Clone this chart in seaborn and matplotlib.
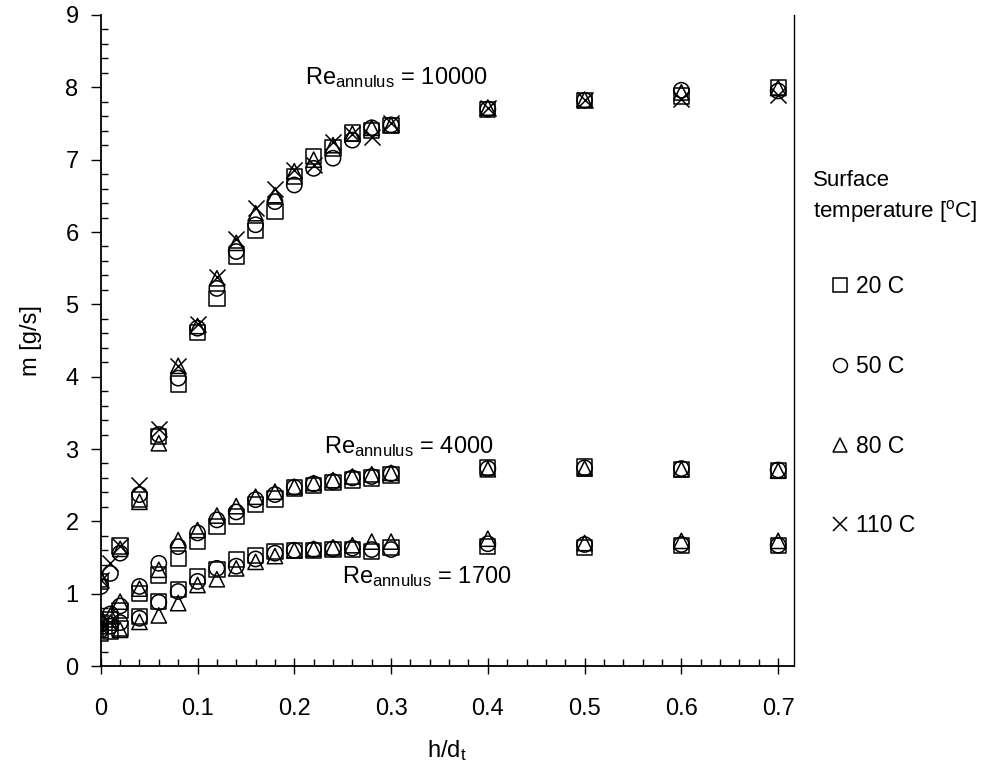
import numpy as np
import pandas as pd
import matplotlib
matplotlib.use("Agg")
import matplotlib.pyplot as plt
from matplotlib.lines import Line2D
from matplotlib.ticker import MultipleLocator, FixedLocator
import seaborn as sns

nan = np.nan

# ---------------- data ----------------
h_dt = [0, 0.01, 0.02, 0.04, 0.06, 0.08, 0.10, 0.12, 0.14, 0.16, 0.18,
        0.20, 0.22, 0.24, 0.26, 0.28, 0.30, 0.4, 0.5, 0.6, 0.7]

temps = ["20 C", "50 C", "80 C", "110 C"]

# Re_annulus = 10000
m10000_20C = [1.17, nan, 1.66, 2.30, 3.17, 3.90, 4.61, 5.08, 5.67, 6.02, 6.28,
              6.77, 7.04, 7.16, 7.37, 7.40, 7.47, 7.69, 7.82, 7.88, 8.00]
m10000_50C = [1.10, 1.28, 1.56, 2.37, 3.20, 3.98, 4.67, 5.22, 5.73, 6.10, 6.42,
              6.65, 6.88, 7.02, 7.27, 7.44, 7.48, 7.70, 7.82, 7.96, 7.95]
m10000_80C = [1.20, nan, 1.62, 2.27, 3.08, 4.15, 4.70, 5.36, 5.85, 6.26, 6.51,
              6.84, 7.00, 7.20, 7.36, 7.44, 7.48, 7.72, 7.83, 7.93, 7.99]
m10000_110C = [1.19, 1.42, 1.66, 2.50, 3.28, 4.15, 4.73, 5.38, 5.90, 6.33, 6.60,
               6.86, 6.93, 7.25, 7.35, 7.32, 7.50, 7.71, 7.82, 7.84, 7.90]

# Re_annulus = 4000
m4000_20C = [0.60, 0.64, 0.77, 1.00, 1.26, 1.49, 1.72, 1.93, 2.07, 2.23, 2.31,
             2.46, 2.50, 2.54, 2.57, 2.60, 2.64, 2.74, 2.75, 2.72, 2.70]
m4000_50C = [0.58, 0.72, 0.83, 1.10, 1.42, 1.65, 1.84, 2.02, 2.13, 2.30, 2.37,
             2.47, 2.52, 2.55, 2.60, 2.62, 2.66, 2.73, 2.74, 2.73, 2.71]
m4000_80C = [0.68, 0.70, 0.89, 1.07, 1.33, 1.74, 1.88, 2.08, 2.21, 2.34, 2.41,
             2.48, 2.53, 2.57, 2.62, 2.65, 2.67, 2.72, 2.73, 2.72, 2.70]

# Re_annulus = 1700
m1700_20C = [0.45, 0.48, 0.52, 0.68, 0.89, 1.06, 1.24, 1.33, 1.47, 1.53, 1.58,
             1.60, 1.60, 1.61, 1.61, 1.58, 1.64, 1.65, 1.64, 1.67, 1.67]
m1700_50C = [0.50, 0.55, 0.60, 0.66, 0.88, 1.03, 1.17, 1.35, 1.38, 1.48, 1.56,
             1.60, 1.61, 1.62, 1.63, 1.61, 1.61, 1.69, 1.68, 1.68, 1.67]
m1700_80C = [0.55, 0.60, 0.50, 0.61, 0.70, 0.87, 1.12, 1.20, 1.35, 1.44, 1.52,
             1.60, 1.62, 1.64, 1.67, 1.72, 1.72, 1.76, 1.70, 1.73, 1.73]

x_ticks = [0, 0.1, 0.2, 0.3, 0.4, 0.5, 0.6, 0.7]
x_ticklabels = ["0", "0.1", "0.2", "0.3", "0.4", "0.5", "0.6", "0.7"]
y_ticks = [0, 1, 2, 3, 4, 5, 6, 7, 8, 9]
y_ticklabels = [str(v) for v in y_ticks]

re_labels = ["10000", "4000", "1700"]
re_label_pos = [(0.211, 8.13), (0.231, 3.03), (0.249, 1.24)]

# ---------------- long table ----------------
series = {
    ("10000", "20 C"): m10000_20C, ("10000", "50 C"): m10000_50C,
    ("10000", "80 C"): m10000_80C, ("10000", "110 C"): m10000_110C,
    ("4000", "20 C"): m4000_20C, ("4000", "50 C"): m4000_50C,
    ("4000", "80 C"): m4000_80C,
    ("1700", "20 C"): m1700_20C, ("1700", "50 C"): m1700_50C,
    ("1700", "80 C"): m1700_80C,
}
rows = []
for (re, t), vals in series.items():
    for x, y in zip(h_dt, vals):
        if not np.isnan(y):
            rows.append({"h": x, "m": y, "Re": re, "T": t})
df = pd.DataFrame(rows)

# ---------------- style ----------------
sns.set_theme(style="white")
plt.rcParams["font.family"] = ["Liberation Sans", "DejaVu Sans"]
plt.rcParams["mathtext.fontset"] = "custom"
plt.rcParams["mathtext.rm"] = "Liberation Sans"
plt.rcParams["mathtext.it"] = "Liberation Sans"
for k in ["text.color", "axes.labelcolor", "xtick.color", "ytick.color", "axes.edgecolor"]:
    plt.rcParams[k] = "black"
FS = 17

fig = plt.figure(figsize=(9.81, 7.73), dpi=100)
ax = fig.add_axes([0.1027, 0.1384, 0.7063, 0.8422])

marker_map = {"20 C": "s", "50 C": "o", "80 C": "^", "110 C": "x"}
MS = 11.0
for t in temps:
    sub = df[df["T"] == t]
    if t == "110 C":
        sns.scatterplot(data=sub, x="h", y="m", marker="x", s=MS**2 * 1.1,
                        color="black", linewidth=1.1, ax=ax, legend=False, zorder=3)
    else:
        sns.scatterplot(data=sub, x="h", y="m", marker=marker_map[t], s=MS**2,
                        facecolors="none", edgecolor="black", linewidth=1.1,
                        ax=ax, legend=False, zorder=3)

ax.set_xlim(0, 0.716)
ax.set_ylim(0, 9)
ax.xaxis.set_major_locator(FixedLocator(x_ticks))
ax.set_xticklabels(x_ticklabels)
ax.xaxis.set_minor_locator(MultipleLocator(0.02))
ax.yaxis.set_major_locator(FixedLocator(y_ticks))
ax.set_yticklabels(y_ticklabels)
ax.yaxis.set_minor_locator(MultipleLocator(0.2))

for side in ["left", "bottom", "right"]:
    ax.spines[side].set_visible(True)
    ax.spines[side].set_color("black")
    ax.spines[side].set_linewidth(1.3)
ax.spines["top"].set_visible(False)
ax.spines["right"].set_linewidth(1.0)

ax.tick_params(axis="x", which="major", direction="inout", length=12, width=1,
               color="black", labelsize=FS, pad=17, bottom=True)
ax.tick_params(axis="x", which="minor", direction="in", length=5, width=1,
               color="black", bottom=True)
ax.tick_params(axis="y", which="major", direction="out", length=7, width=1,
               color="black", labelsize=FS, pad=9, left=True)
ax.tick_params(axis="y", which="minor", direction="in", length=5, width=1,
               color="black", left=True)
ax.tick_params(which="both", top=False, right=False)

ax.set_xlabel(r"h/d$_{\mathrm{t}}$", fontsize=FS, labelpad=13)
ax.set_ylabel("m [g/s]", fontsize=FS, labelpad=17)

for lab, (xp, yp) in zip(re_labels, re_label_pos):
    ax.text(xp, yp, r"Re$_{\mathrm{annulus}}$ = " + lab, fontsize=FS,
            ha="left", va="center")

# legend
fig.text(813 / 981, 1 - 180 / 773, "Surface", fontsize=16, ha="left", va="center")
fig.text(813 / 981, 1 - 212 / 773, r"temperature [$^{\mathrm{o}}$C]", fontsize=16,
         ha="left", va="center")
handles = []
for t in temps:
    m = marker_map[t]
    if m == "x":
        handles.append(Line2D([], [], marker="x", linestyle="none", color="black",
                              markersize=10, markeredgewidth=1.1))
    else:
        handles.append(Line2D([], [], marker=m, linestyle="none", color="black",
                              markerfacecolor="none", markersize=10,
                              markeredgewidth=1.1))
fig.legend(handles, temps, loc="upper left", bbox_to_anchor=(829 / 981, 1 - 275 / 773),
           frameon=False, fontsize=16.5, labelspacing=2.48, handletextpad=0.16,
           handlelength=1.0, borderpad=0, borderaxespad=0)

fig.savefig("out.png", dpi=100)
